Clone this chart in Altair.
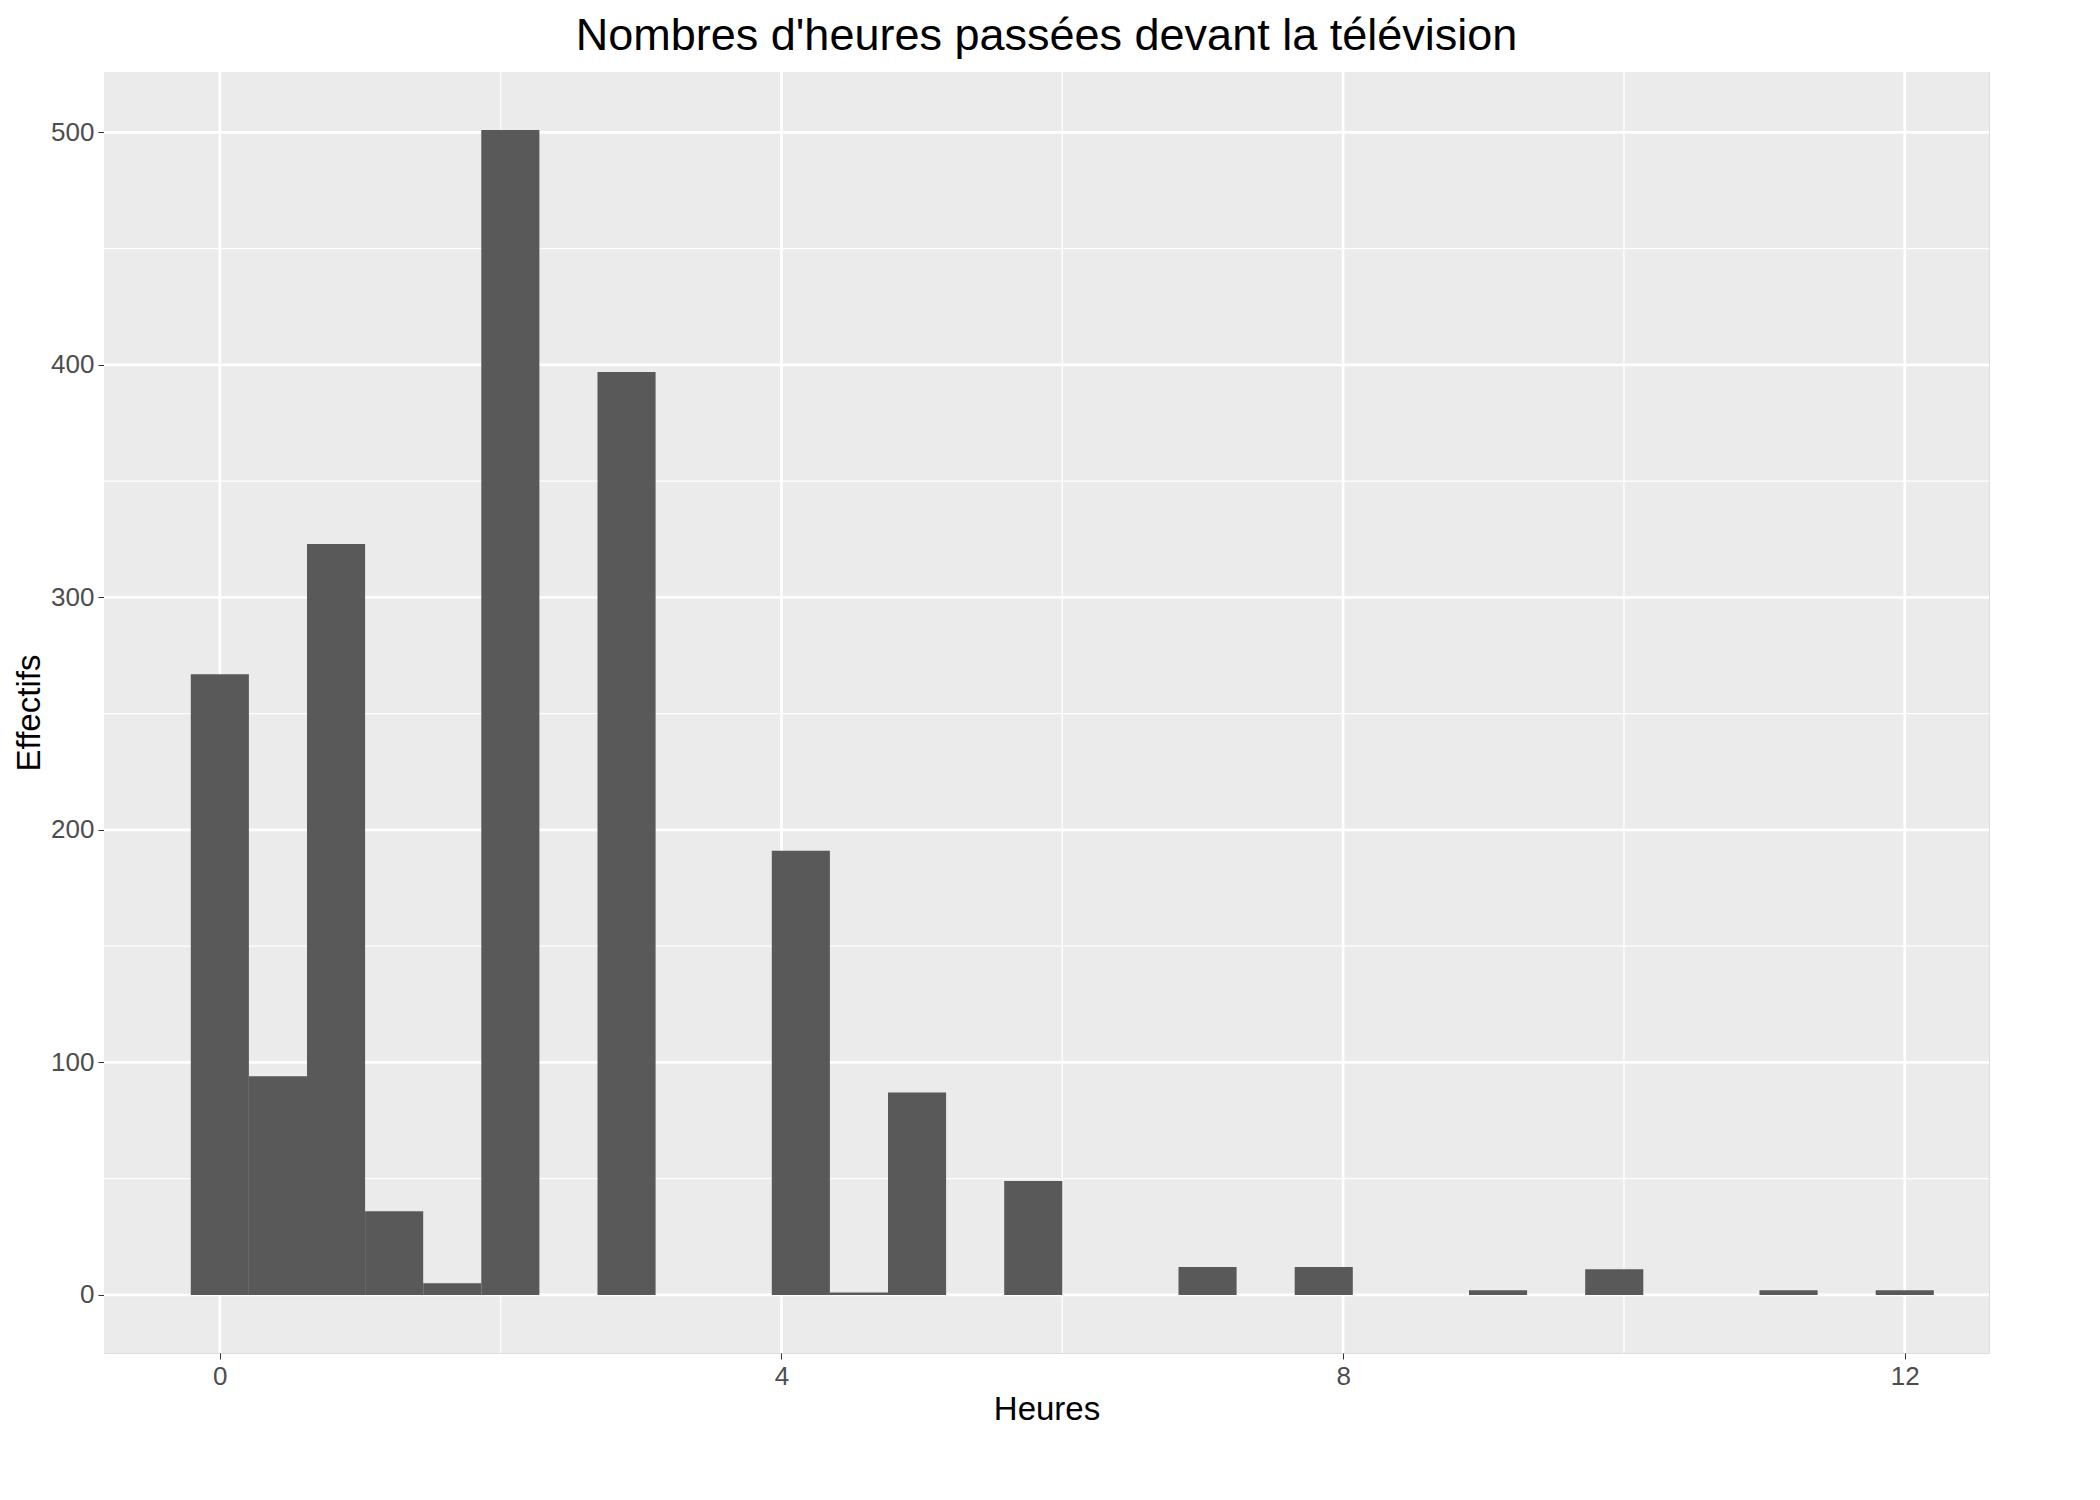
import altair as alt
import pandas as pd

# ggplot-style histogram: 30 bins over 0..12
counts = [267, 94, 323, 36, 5, 501, 0, 397, 0, 0, 191, 1, 87, 0, 49,
          0, 0, 12, 0, 12, 0, 0, 2, 0, 11, 0, 0, 2, 0, 2]
x_min, x_max = 0, 12
x_ticks = [0, 4, 8, 12]
x_minor = [2, 6, 10]
y_ticks = [0, 100, 200, 300, 400, 500]
y_minor = [50, 150, 250, 350, 450]

W, H = 1885, 1281

bw = (x_max - x_min) / (len(counts) - 1)
df = pd.DataFrame({
    "start": [x_min + i * bw - bw / 2 for i in range(len(counts))],
    "end": [x_min + i * bw + bw / 2 for i in range(len(counts))],
    "count": counts,
})
df = df[df["count"] > 0]

xs = alt.Scale(domain=[-0.825, 12.6], nice=False, zero=False)
ys = alt.Scale(domain=[-25, 526], nice=False, zero=False)

panel = alt.Chart(pd.DataFrame({"a": [0]})).mark_rect(color="#EBEBEB").encode(
    x=alt.value(0), x2=alt.value(W), y=alt.value(0), y2=alt.value(H))


def vrules(vals, w):
    return alt.Chart(pd.DataFrame({"v": vals})).mark_rule(color="white", strokeWidth=w).encode(
        x=alt.X("v:Q", scale=xs))


def hrules(vals, w):
    return alt.Chart(pd.DataFrame({"v": vals})).mark_rule(color="white", strokeWidth=w).encode(
        y=alt.Y("v:Q", scale=ys))


axis_style = dict(grid=False, tickColor="#333333", tickSize=6, domain=False, format="d",
                  labelFontSize=26, labelColor="#4D4D4D", titleFontSize=33,
                  titleFontWeight="normal", titleColor="black", labelPadding=4)

bars = alt.Chart(df).mark_rect(color="#595959").encode(
    x=alt.X("start:Q", scale=xs, title="Heures", axis=alt.Axis(values=x_ticks, **axis_style)),
    x2="end:Q",
    y=alt.Y("count:Q", scale=ys, title="Effectifs", axis=alt.Axis(values=y_ticks, **axis_style)),
    y2=alt.datum(0),
)

chart = (
    alt.layer(panel, vrules(x_minor, 1.3), hrules(y_minor, 1.3),
              vrules(x_ticks, 2.7), hrules(y_ticks, 2.7), bars)
    .properties(
        width=W, height=H,
        title=alt.TitleParams("Nombres d'heures passées devant la télévision",
                              fontSize=45, fontWeight="normal", anchor="middle", offset=12),
        background="white",
    )
    .configure_view(stroke=None)
    .configure(font="Liberation Sans")
)

chart.save("out.html", embed_options={"renderer": "svg", "actions": False})
